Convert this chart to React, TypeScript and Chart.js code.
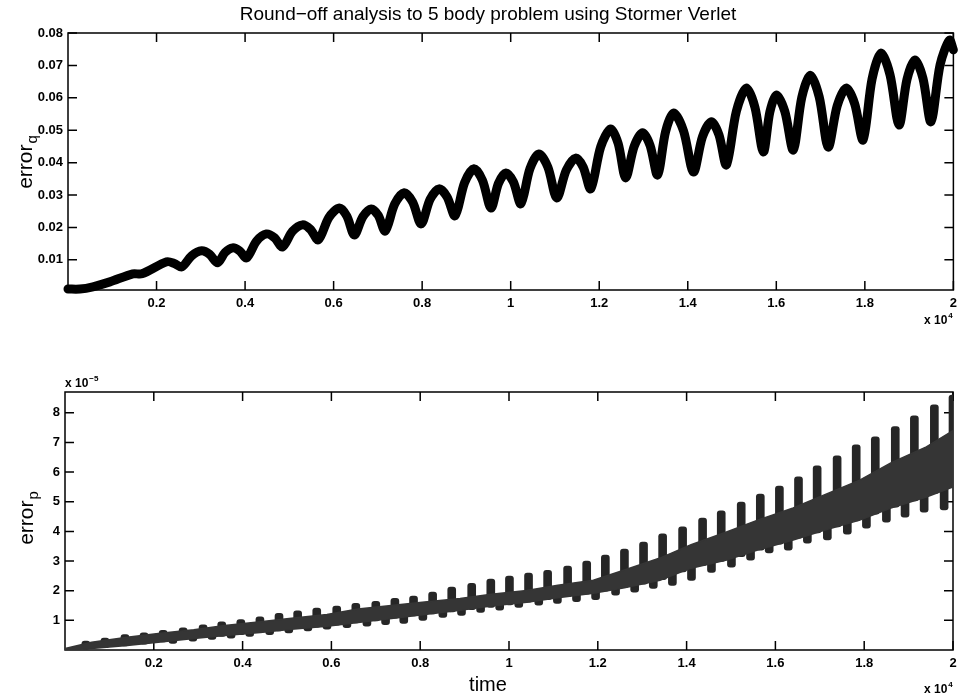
import React, { useEffect, useRef } from "react";
import { Chart, registerables } from "chart.js";

Chart.register(...registerables);

const FONT = "'Liberation Sans', Arial, Helvetica, sans-serif";
const TITLE = "Round\u2212off analysis to 5 body problem using Stormer Verlet";

// shared x ticks (time, shown as x 10^4)
const xTickValues = [2000, 4000, 6000, 8000, 10000, 12000, 14000, 16000, 18000, 20000];
const xTickLabels = ["0.2", "0.4", "0.6", "0.8", "1", "1.2", "1.4", "1.6", "1.8", "2"];

// top panel: error_q
const qTickValues = [0.01, 0.02, 0.03, 0.04, 0.05, 0.06, 0.07, 0.08];
const qTickLabels = ["0.01", "0.02", "0.03", "0.04", "0.05", "0.06", "0.07", "0.08"];
const qTime = [0, 270, 563, 946, 1465, 1668, 2231, 2400, 2569, 2795, 3020, 3200, 3380, 3549, 3718, 3876, 4034, 4259, 4484, 4665, 4845, 5070, 5296, 5476, 5656, 5893, 6130, 6299, 6468, 6660, 6851, 7009, 7166, 7380, 7594, 7786, 7977, 8180, 8383, 8564, 8744, 8958, 9172, 9364, 9555, 9724, 9893, 10062, 10231, 10434, 10637, 10840, 11042, 11256, 11470, 11639, 11808, 12034, 12259, 12428, 12597, 12789, 12980, 13149, 13318, 13499, 13679, 13904, 14129, 14332, 14535, 14704, 14873, 15099, 15324, 15516, 15707, 15854, 16000, 16192, 16383, 16575, 16766, 16969, 17172, 17375, 17577, 17769, 17960, 18163, 18366, 18569, 18772, 18952, 19132, 19313, 19493, 19700, 19910, 20000];
const qError = [0.0010, 0.0010, 0.0017, 0.0032, 0.0057, 0.0057, 0.0094, 0.0089, 0.0078, 0.0113, 0.0128, 0.0117, 0.0091, 0.0123, 0.0137, 0.0128, 0.0106, 0.0158, 0.0180, 0.0168, 0.0140, 0.0188, 0.0208, 0.0194, 0.0162, 0.0231, 0.0260, 0.0235, 0.0177, 0.0233, 0.0257, 0.0237, 0.0189, 0.0272, 0.0307, 0.0278, 0.0211, 0.0287, 0.0319, 0.0294, 0.0236, 0.0338, 0.0381, 0.0345, 0.0260, 0.0336, 0.0368, 0.0340, 0.0273, 0.0381, 0.0427, 0.0386, 0.0291, 0.0377, 0.0414, 0.0386, 0.0319, 0.0449, 0.0504, 0.0459, 0.0353, 0.0450, 0.0492, 0.0453, 0.0362, 0.0496, 0.0553, 0.0498, 0.0371, 0.0480, 0.0526, 0.0486, 0.0393, 0.0559, 0.0630, 0.0571, 0.0433, 0.0556, 0.0609, 0.0558, 0.0439, 0.0601, 0.0670, 0.0603, 0.0448, 0.0575, 0.0630, 0.0582, 0.0470, 0.0658, 0.0738, 0.0671, 0.0516, 0.0657, 0.0717, 0.0660, 0.0526, 0.0702, 0.0778, 0.0748];

// bottom panel: error_p (values in units of 1e-5)
const pTickValues = [1, 2, 3, 4, 5, 6, 7, 8];
const pTickLabels = ["1", "2", "3", "4", "5", "6", "7", "8"];
const pBandTime = [0, 600, 1400, 2100, 2900, 3600, 4400, 5100, 5900, 6600, 7400, 8100, 8900, 9600, 10400, 11100, 11900, 12600, 13400, 14100, 14900, 15600, 16400, 17100, 17900, 18600, 19400, 20000];
const pBandUpper = [0.05, 0.26, 0.43, 0.56, 0.68, 0.83, 0.95, 1.07, 1.20, 1.38, 1.51, 1.62, 1.74, 1.88, 2.01, 2.18, 2.35, 2.70, 3.10, 3.55, 3.98, 4.38, 4.79, 5.23, 5.73, 6.31, 6.85, 7.40];
const pBandLower = [0.00, 0.05, 0.15, 0.26, 0.39, 0.49, 0.59, 0.70, 0.80, 0.93, 1.07, 1.20, 1.34, 1.48, 1.61, 1.76, 1.91, 2.10, 2.35, 2.76, 3.03, 3.37, 3.71, 4.04, 4.38, 4.79, 5.16, 5.50];
const pSpikeTime = [470, 900, 1350, 1780, 2210, 2660, 3110, 3530, 3960, 4390, 4820, 5240, 5670, 6120, 6550, 7000, 7430, 7850, 8280, 8710, 9160, 9590, 10010, 10440, 10870, 11320, 11750, 12170, 12600, 13030, 13460, 13910, 14360, 14780, 15230, 15660, 16090, 16520, 16940, 17390, 17820, 18250, 18700, 19130, 19580, 20000];
const pSpikeBase = [0.03, 0.08, 0.14, 0.20, 0.27, 0.35, 0.43, 0.46, 0.52, 0.59, 0.64, 0.72, 0.77, 0.84, 0.91, 0.98, 1.07, 1.15, 1.22, 1.28, 1.36, 1.44, 1.52, 1.61, 1.70, 1.80, 1.88, 1.98, 2.10, 2.22, 2.37, 2.63, 2.84, 2.99, 3.15, 3.37, 3.57, 3.77, 3.95, 4.15, 4.35, 4.58, 4.82, 5.03, 5.27, 5.50];
const pSpikeTop = [0.30, 0.40, 0.52, 0.58, 0.66, 0.75, 0.85, 0.95, 1.03, 1.12, 1.24, 1.32, 1.41, 1.48, 1.57, 1.64, 1.74, 1.82, 1.95, 2.12, 2.25, 2.39, 2.49, 2.59, 2.69, 2.83, 3.00, 3.20, 3.40, 3.64, 3.92, 4.15, 4.45, 4.69, 4.99, 5.26, 5.53, 5.84, 6.21, 6.55, 6.92, 7.19, 7.53, 7.90, 8.27, 8.60];
const pDipTime = [2430, 2880, 3310, 3740, 4160, 4610, 5040, 5470, 5900, 6350, 6800, 7220, 7630, 8060, 8510, 8930, 9360, 9790, 10220, 10670, 11090, 11520, 11950, 12400, 12830, 13250, 13680, 14110, 14560, 15010, 15440, 15860, 16290, 16720, 17170, 17620, 18050, 18500, 18920, 19350, 19800];
const pDipLow = [0.22, 0.30, 0.36, 0.40, 0.46, 0.52, 0.58, 0.64, 0.70, 0.75, 0.80, 0.85, 0.90, 1.00, 1.10, 1.17, 1.27, 1.34, 1.44, 1.51, 1.57, 1.63, 1.70, 1.85, 1.95, 2.08, 2.18, 2.35, 2.62, 2.79, 3.03, 3.27, 3.37, 3.60, 3.71, 3.91, 4.11, 4.31, 4.48, 4.65, 4.72];
const pDipBase = [0.45, 0.50, 0.58, 0.64, 0.70, 0.75, 0.82, 0.90, 0.98, 1.06, 1.14, 1.22, 1.30, 1.38, 1.46, 1.52, 1.60, 1.66, 1.74, 1.80, 1.90, 1.98, 2.06, 2.22, 2.40, 2.60, 2.80, 3.10, 3.30, 3.60, 3.80, 4.00, 4.30, 4.50, 4.70, 5.00, 5.20, 5.50, 5.80, 6.00, 6.30];

const labelFor = (vals: number[], labels: string[], v: number) => {
  const i = vals.findIndex((x) => Math.abs(x - v) < 1e-9);
  return i >= 0 ? labels[i] : "";
};

type Note = { main: string; sup: string; x: number; y: number };
type Plain = { text: string; x: number; y: number; size: number };

function makeAxesPlugin(cfg: { label: string; sub: string; labelX: number; labelY: number; notes: Note[]; texts: Plain[] }) {
  return {
    id: "matlabAxes",
    beforeDatasetsDraw(chart: any) {
      const { ctx, chartArea: a } = chart;
      const xs = chart.scales.x;
      const ys = chart.scales.y;
      const L = 9;
      ctx.save();
      ctx.strokeStyle = "#000";
      ctx.lineWidth = 1.5;
      ctx.strokeRect(a.left, a.top, a.right - a.left, a.bottom - a.top);
      ctx.beginPath();
      for (const t of xs.ticks) {
        const x = xs.getPixelForValue(t.value);
        ctx.moveTo(x, a.bottom);
        ctx.lineTo(x, a.bottom - L);
        ctx.moveTo(x, a.top);
        ctx.lineTo(x, a.top + L);
      }
      for (const t of ys.ticks) {
        const y = ys.getPixelForValue(t.value);
        ctx.moveTo(a.left, y);
        ctx.lineTo(a.left + L, y);
        ctx.moveTo(a.right, y);
        ctx.lineTo(a.right - L, y);
      }
      ctx.stroke();
      ctx.restore();
    },
    afterDraw(chart: any) {
      const ctx = chart.ctx;
      ctx.save();
      ctx.fillStyle = "#000";
      ctx.textBaseline = "alphabetic";
      ctx.textAlign = "left";
      ctx.translate(cfg.labelX, cfg.labelY);
      ctx.rotate(-Math.PI / 2);
      ctx.font = `21px ${FONT}`;
      const w1 = ctx.measureText(cfg.label).width;
      ctx.font = `15px ${FONT}`;
      const w2 = ctx.measureText(cfg.sub).width;
      const start = -(w1 + w2 + 1) / 2;
      ctx.font = `21px ${FONT}`;
      ctx.fillText(cfg.label, start, 0);
      ctx.font = `15px ${FONT}`;
      ctx.fillText(cfg.sub, start + w1 + 1, 5);
      ctx.restore();

      ctx.save();
      ctx.fillStyle = "#000";
      ctx.textBaseline = "alphabetic";
      for (const p of cfg.texts) {
        ctx.textAlign = "center";
        ctx.font = `${p.size}px ${FONT}`;
        ctx.fillText(p.text, p.x, p.y);
      }
      ctx.textAlign = "left";
      for (const n of cfg.notes) {
        ctx.font = `bold 12px ${FONT}`;
        ctx.fillText(n.main, n.x, n.y);
        const w = ctx.measureText(n.main).width;
        ctx.font = `bold 8px ${FONT}`;
        ctx.fillText(n.sup, n.x + w + 1, n.y - 6);
      }
      ctx.restore();
    },
  };
}

const tickFont = { family: FONT, size: 13, weight: "bold" as const };

function xScale(height: number) {
  return {
    type: "linear" as const,
    min: 0,
    max: 20000,
    offset: false,
    grid: { display: false, drawTicks: false },
    border: { display: false },
    afterBuildTicks: (s: any) => {
      s.ticks = xTickValues.map((v) => ({ value: v }));
    },
    afterFit: (s: any) => {
      s.height = height;
    },
    ticks: {
      autoSkip: false,
      maxRotation: 0,
      padding: 6,
      color: "#000",
      font: tickFont,
      callback: (v: any) => labelFor(xTickValues, xTickLabels, Number(v)),
    },
  };
}

function yScale(min: number, max: number, vals: number[], labels: string[], width: number) {
  return {
    type: "linear" as const,
    min,
    max,
    grid: { display: false, drawTicks: false },
    border: { display: false },
    afterBuildTicks: (s: any) => {
      s.ticks = vals.map((v) => ({ value: v }));
    },
    afterFit: (s: any) => {
      s.width = width;
    },
    ticks: {
      autoSkip: false,
      padding: 5,
      color: "#000",
      font: tickFont,
      callback: (v: any) => labelFor(vals, labels, Number(v)),
    },
  };
}

export default function App() {
  const topRef = useRef<HTMLCanvasElement>(null);
  const botRef = useRef<HTMLCanvasElement>(null);

  useEffect(() => {
    const top = new Chart(topRef.current as HTMLCanvasElement, {
      type: "line",
      data: {
        datasets: [
          {
            data: qTime.map((t, i) => ({ x: t, y: qError[i] })),
            borderColor: "#000",
            borderWidth: 9,
            pointRadius: 0,
            tension: 0.3,
            fill: false,
            borderCapStyle: "round",
            borderJoinStyle: "round",
            clip: 10,
          } as any,
        ],
      },
      options: {
        animation: false,
        responsive: false,
        events: [],
        layout: { padding: { left: 0, right: 7, top: 33, bottom: 0 } },
        plugins: {
          legend: { display: false },
          tooltip: { enabled: false },
          title: { display: false },
        },
        scales: {
          x: xScale(55) as any,
          y: yScale(0.0007, 0.08, qTickValues, qTickLabels, 68) as any,
        },
      },
      plugins: [
        makeAxesPlugin({
          label: "error",
          sub: "q",
          labelX: 32,
          labelY: 162,
          notes: [{ main: "x 10", sup: "4", x: 924, y: 324 }],
          texts: [{ text: TITLE, x: 488, y: 20, size: 19 }],
        }),
      ],
    });

    const bandColor = "#353535";
    const barColor = "#262626";
    const bottom = new Chart(botRef.current as HTMLCanvasElement, {
      type: "bar",
      data: {
        datasets: [
          {
            type: "line",
            data: pBandTime.map((t, i) => ({ x: t, y: pBandUpper[i] })),
            borderColor: bandColor,
            backgroundColor: bandColor,
            borderWidth: 1.5,
            pointRadius: 0,
            tension: 0,
            fill: "+1",
          } as any,
          {
            type: "line",
            data: pBandTime.map((t, i) => ({ x: t, y: pBandLower[i] })),
            borderColor: bandColor,
            backgroundColor: bandColor,
            borderWidth: 1.5,
            pointRadius: 0,
            tension: 0,
            fill: false,
          } as any,
          {
            type: "bar",
            data: pSpikeTime.map((t, i) => ({ x: t, y: [pSpikeBase[i], pSpikeTop[i]] })),
            backgroundColor: barColor,
            barThickness: 8,
            borderRadius: 3,
            borderSkipped: false,
            grouped: false,
          } as any,
          {
            type: "bar",
            data: pDipTime.map((t, i) => ({ x: t, y: [pDipLow[i], pDipBase[i]] })),
            backgroundColor: barColor,
            barThickness: 8,
            borderRadius: 3,
            borderSkipped: false,
            grouped: false,
          } as any,
        ],
      },
      options: {
        animation: false,
        responsive: false,
        events: [],
        layout: { padding: { left: 0, right: 10, top: 47, bottom: 0 } },
        plugins: {
          legend: { display: false },
          tooltip: { enabled: false },
          title: { display: false },
        },
        scales: {
          x: xScale(46) as any,
          y: yScale(0, 8.7, pTickValues, pTickLabels, 65) as any,
        },
      },
      plugins: [
        makeAxesPlugin({
          label: "error",
          sub: "p",
          labelX: 33,
          labelY: 173,
          notes: [
            { main: "x 10", sup: "4", x: 924, y: 348 },
            { main: "x 10", sup: "\u22125", x: 65, y: 42 },
          ],
          texts: [{ text: "time", x: 488, y: 346, size: 20 }],
        }),
      ],
    });

    return () => {
      top.destroy();
      bottom.destroy();
    };
  }, []);

  return (
    <div style={{ position: "fixed", left: 0, top: 0, width: 963, height: 696, background: "#fff" }}>
      <canvas ref={topRef} width={963} height={345} style={{ position: "absolute", left: 0, top: 0, display: "block" }} />
      <canvas ref={botRef} width={963} height={351} style={{ position: "absolute", left: 0, top: 345, display: "block" }} />
    </div>
  );
}
